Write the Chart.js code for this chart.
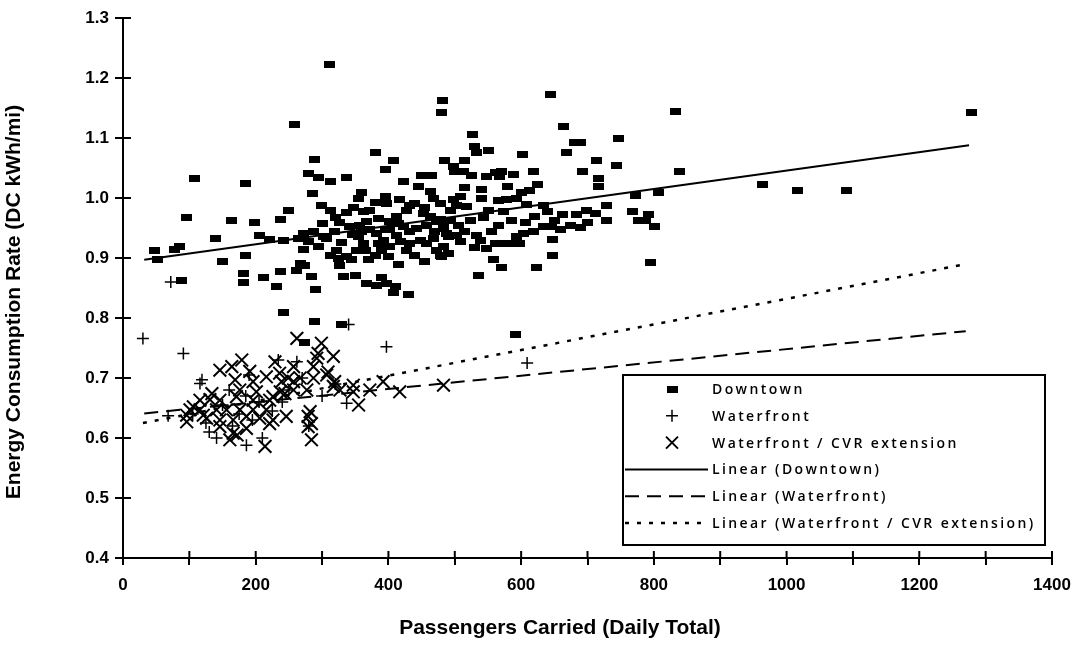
<!DOCTYPE html>
<html>
<head>
<meta charset="utf-8">
<script src="https://cdn.jsdelivr.net/npm/chart.js@4.4.1/dist/chart.umd.min.js"></script>
<style>
  html, body { margin: 0; padding: 0; background: #fff; }
  canvas { display: block; }
</style>
</head>
<body>
<canvas id="chart" width="1082" height="649"></canvas>
<script>
// values: [passengers carried, kWh/mi]
const downtown = [
  [48, 0.912], [52, 0.897], [78, 0.915], [85, 0.92], [88, 0.863], [95, 0.968], [108, 1.032],
  [140, 0.932], [150, 0.895], [164, 0.962], [182, 0.875], [182, 0.86], [185, 0.905], [185, 1.025],
  [289, 1.065], [381, 1.076], [407, 1.062], [396, 1.048], [279, 1.041], [294, 1.034], [312, 1.027],
  [337, 1.034], [285, 1.008], [360, 1.009], [355, 1.0], [395, 1.002], [417, 0.998], [423, 1.028],
  [450, 1.038], [465, 1.037], [445, 1.02], [463, 1.011], [468, 0.999], [478, 0.991],
  [299, 0.988], [312, 0.98], [249, 0.979], [237, 0.965], [198, 0.959], [206, 0.938],
  [337, 0.976], [347, 0.984], [362, 0.977], [372, 0.98], [380, 0.992], [397, 0.991], [432, 0.988],
  [440, 0.991], [427, 0.98], [412, 0.969], [402, 0.961], [385, 0.966],
  [327, 0.959], [342, 0.952], [357, 0.955], [367, 0.961],
  [453, 0.974], [463, 0.969], [473, 0.961], [483, 0.952], [488, 0.941],
  [423, 0.952], [432, 0.944], [443, 0.949],
  [272, 0.941], [287, 0.944], [302, 0.936], [264, 0.933], [279, 0.927], [294, 0.919], [307, 0.933],
  [242, 0.93], [221, 0.931], [272, 0.914],
  [355, 0.936], [362, 0.924], [352, 0.913], [365, 0.913], [382, 0.941], [385, 0.924], [392, 0.93],
  [402, 0.947], [412, 0.938], [402, 0.919], [432, 0.924], [427, 0.913], [440, 0.905],
  [458, 0.924], [468, 0.933], [473, 0.913], [483, 0.919], [480, 0.902],
  [322, 0.913], [325, 0.899], [312, 0.905], [337, 0.902], [345, 0.897], [370, 0.897], [380, 0.905], [400, 0.902],
  [327, 0.888], [267, 0.891], [274, 0.888], [262, 0.88], [237, 0.877], [211, 0.868], [232, 0.853], [284, 0.869],
  [332, 0.87], [350, 0.871], [390, 0.868], [367, 0.858], [382, 0.855], [397, 0.858], [410, 0.853],
  [407, 0.842], [431, 0.84], [290, 0.847], [242, 0.81], [288, 0.795], [330, 0.79], [274, 0.76],
  [311, 1.223], [258, 1.122], [482, 1.162], [480, 1.142], [644, 1.173], [664, 1.12],
  [526, 1.106], [529, 1.086], [533, 1.076], [551, 1.079], [602, 1.073], [681, 1.093], [689, 1.093],
  [668, 1.076], [747, 1.099], [714, 1.062], [744, 1.055],
  [484, 1.062], [498, 1.053], [500, 1.044], [513, 1.044], [514, 1.062],
  [525, 1.037], [548, 1.036], [561, 1.042], [571, 1.044], [568, 1.036], [589, 1.039], [619, 1.045],
  [692, 1.045], [716, 1.032], [716, 1.019], [625, 1.023], [612, 1.012], [515, 1.018], [540, 1.0],
  [508, 1.002], [498, 0.997], [503, 0.988], [493, 0.98],
  [566, 0.996], [578, 0.997], [593, 0.999], [608, 0.99], [633, 0.987], [518, 0.986], [523, 0.963],
  [551, 0.98], [543, 0.968], [573, 0.977],
  [478, 0.964], [493, 0.963], [483, 0.949], [490, 0.936], [503, 0.938], [508, 0.927],
  [729, 0.988], [772, 1.005], [768, 0.978], [777, 0.963], [699, 0.98], [684, 0.972], [729, 0.963],
  [663, 0.972], [651, 0.963], [646, 0.952], [659, 0.947], [674, 0.955], [689, 0.951], [606, 0.959], [566, 0.955],
  [633, 0.952], [618, 0.944], [603, 0.941], [593, 0.936], [598, 0.924], [583, 0.924], [571, 0.924], [561, 0.924],
  [648, 0.931], [648, 0.905], [533, 0.938], [538, 0.93], [530, 0.918], [548, 0.916], [558, 0.898],
  [570, 0.884], [623, 0.884], [536, 0.871], [478, 0.905], [490, 0.908], [592, 0.773],
  [832, 1.145], [1279, 1.142], [838, 1.045], [963, 1.022], [1016, 1.012], [1090, 1.012], [807, 1.01],
  [792, 0.973], [787, 0.963], [801, 0.952], [795, 0.892],
  // overlapping marks inside the dense middle of the cloud
  [318, 0.944], [330, 0.926], [346, 0.94], [372, 0.948], [395, 0.948], [418, 0.928], [448, 0.93],
  [458, 0.955], [470, 0.945], [415, 0.958], [390, 0.912], [360, 0.945], [300, 0.958], [320, 0.968],
  [455, 0.985], [505, 0.955], [515, 0.945], [555, 0.945], [585, 0.962], [620, 0.97], [640, 0.978],
  [700, 0.96], [712, 0.975], [540, 1.015], [580, 1.02], [600, 1.01], [415, 0.89], [455, 0.895]
];

const waterfront = [
  [30, 0.766], [72, 0.86], [91, 0.741], [116, 0.691], [119, 0.697], [68, 0.637], [141, 0.6],
  [186, 0.588], [234, 0.73], [262, 0.727], [340, 0.789], [397, 0.752], [337, 0.658], [609, 0.725],
  [105, 0.64], [125, 0.625], [150, 0.655], [165, 0.62], [175, 0.64], [195, 0.63], [205, 0.66],
  [225, 0.645], [250, 0.68], [270, 0.7], [300, 0.67], [160, 0.68], [210, 0.6], [130, 0.61],
  [185, 0.67], [280, 0.62], [240, 0.66], [320, 0.69], [190, 0.705]
];

const cvrExtension = [
  [262, 0.766], [299, 0.758], [317, 0.736], [294, 0.741], [179, 0.73], [146, 0.713], [191, 0.711],
  [229, 0.727], [257, 0.719], [287, 0.719], [169, 0.697], [196, 0.694], [216, 0.702], [236, 0.708],
  [164, 0.719], [307, 0.705], [134, 0.674], [116, 0.663], [106, 0.652], [96, 0.638], [146, 0.663],
  [171, 0.669], [196, 0.663], [221, 0.663], [141, 0.647], [156, 0.647], [176, 0.647], [196, 0.647],
  [216, 0.647], [126, 0.633], [146, 0.63], [166, 0.63], [186, 0.636], [206, 0.633], [226, 0.63],
  [146, 0.619], [166, 0.608], [186, 0.616], [221, 0.624], [161, 0.597], [172, 0.605], [214, 0.586],
  [246, 0.636], [282, 0.644], [284, 0.624], [284, 0.597], [317, 0.686], [347, 0.677], [392, 0.694],
  [417, 0.677], [483, 0.688], [355, 0.655], [277, 0.68], [257, 0.694], [244, 0.674], [176, 0.68],
  [201, 0.677], [226, 0.669], [116, 0.647], [101, 0.647], [121, 0.638], [96, 0.627], [131, 0.664],
  [249, 0.7], [267, 0.7], [239, 0.694], [287, 0.7], [319, 0.694], [372, 0.68], [327, 0.68],
  [309, 0.71], [292, 0.733], [279, 0.636], [279, 0.619], [347, 0.688], [257, 0.68], [237, 0.677]
];

// trend line end points
const downtownFit = [[32, 0.897], [1275, 1.088]];
const waterfrontFit = [[32, 0.641], [1270, 0.778]];
const cvrFit = [[30, 0.625], [1262, 0.888]];

const xRange = [0, 1400];
const yRange = [0.4, 1.3];
const xTitle = 'Passengers Carried (Daily Total)';
const yTitle = 'Energy Consumption Rate (DC kWh/mi)';

const FONT = '"Liberation Sans", Arial, Helvetica, sans-serif';

const toPts = arr => arr.map(([x, y]) => ({ x, y }));

// small black bar used as the Downtown marker
const bar = document.createElement('canvas');
bar.width = 11;
bar.height = 7;
const bctx = bar.getContext('2d');
bctx.fillStyle = '#000';
bctx.fillRect(0, 0, 11, 7);

const innerTicks = {
  id: 'innerTicks',
  afterDatasetsDraw(chart) {
    const { ctx, chartArea: a, scales: { x, y } } = chart;
    ctx.save();
    ctx.strokeStyle = '#000';
    ctx.lineWidth = 2;
    ctx.beginPath();
    x.ticks.forEach(t => {
      const px = x.getPixelForValue(t.value);
      ctx.moveTo(px, a.bottom);
      ctx.lineTo(px, a.bottom - 7);
    });
    y.ticks.forEach(t => {
      const py = y.getPixelForValue(t.value);
      ctx.moveTo(a.left, py);
      ctx.lineTo(a.left + 8, py);
    });
    ctx.stroke();
    ctx.restore();
  }
};

// axis titles sit a little off the plot centre in the original
const axisTitles = {
  id: 'axisTitles',
  afterDraw(chart) {
    const ctx = chart.ctx;
    ctx.save();
    ctx.fillStyle = '#000';
    ctx.font = 'bold 21px ' + FONT;
    ctx.textAlign = 'center';
    ctx.textBaseline = 'middle';
    ctx.fillText(xTitle, 560, 628);
    ctx.translate(14, 302);
    ctx.rotate(-Math.PI / 2);
    ctx.fillText(yTitle, 0, 0);
    ctx.restore();
  }
};

const boxLegend = {
  id: 'boxLegend',
  afterDraw(chart) {
    const ctx = chart.ctx;
    const sets = chart.data.datasets;
    const left = 623, top = 375, right = 1045, bottom = 545;
    ctx.save();
    ctx.fillStyle = '#fff';
    ctx.fillRect(left, top, right - left, bottom - top);
    ctx.strokeStyle = '#000';
    ctx.lineWidth = 2;
    ctx.strokeRect(left, top, right - left, bottom - top);

    ctx.font = '600 14px "Open Sans", ' + FONT;
    ctx.letterSpacing = '2.4px';
    ctx.textBaseline = 'middle';
    ctx.fillStyle = '#000';
    sets.forEach((ds, i) => {
      const cy = 389 + i * 26.8;
      const mx = 672;
      ctx.lineWidth = ds.borderWidth || 2;
      ctx.setLineDash([]);
      if (i === 0) {
        ctx.drawImage(bar, mx - 5, cy - 3);
      } else if (i === 1) {
        ctx.lineWidth = 1.5;
        ctx.beginPath();
        ctx.moveTo(mx - 6, cy); ctx.lineTo(mx + 6, cy);
        ctx.moveTo(mx, cy - 6); ctx.lineTo(mx, cy + 6);
        ctx.stroke();
      } else if (i === 2) {
        ctx.lineWidth = 2;
        ctx.beginPath();
        ctx.moveTo(mx - 6, cy - 6); ctx.lineTo(mx + 6, cy + 6);
        ctx.moveTo(mx + 6, cy - 6); ctx.lineTo(mx - 6, cy + 6);
        ctx.stroke();
      } else {
        ctx.setLineDash(ds.borderDash || []);
        ctx.beginPath();
        ctx.moveTo(left + 2, cy);
        ctx.lineTo(708, cy);
        ctx.stroke();
        ctx.setLineDash([]);
      }
      ctx.fillText(ds.label, 712, cy + 1);
    });
    ctx.restore();
  }
};

new Chart(document.getElementById('chart'), {
  type: 'scatter',
  data: {
    datasets: [
      {
        label: 'Downtown', data: toPts(downtown), order: 3,
        pointStyle: bar, pointRadius: 5, pointHoverRadius: 5,
        pointBackgroundColor: '#000', pointBorderColor: '#000'
      },
      {
        label: 'Waterfront', data: toPts(waterfront), order: 2,
        pointStyle: 'cross', pointRadius: 6, pointHoverRadius: 6,
        pointBorderColor: '#000', pointBorderWidth: 1.5, borderWidth: 1.5
      },
      {
        label: 'Waterfront / CVR extension', data: toPts(cvrExtension), order: 1,
        pointStyle: 'crossRot', pointRadius: 9, pointHoverRadius: 9,
        pointBorderColor: '#000', pointBorderWidth: 2, borderWidth: 2
      },
      {
        type: 'line', label: 'Linear (Downtown)', data: toPts(downtownFit), order: 0,
        borderColor: '#000', borderWidth: 2, pointRadius: 0, fill: false
      },
      {
        type: 'line', label: 'Linear (Waterfront)', data: toPts(waterfrontFit), order: 0,
        borderColor: '#000', borderWidth: 2, borderDash: [14, 8], pointRadius: 0, fill: false
      },
      {
        type: 'line', label: 'Linear (Waterfront / CVR extension)', data: toPts(cvrFit), order: 0,
        borderColor: '#000', borderWidth: 2.5, borderDash: [4, 8], pointRadius: 0, fill: false
      }
    ]
  },
  options: {
    responsive: false,
    animation: false,
    layout: { padding: { top: 18, right: 30, left: 0, bottom: 0 } },
    plugins: { legend: { display: false }, tooltip: { enabled: false } },
    scales: {
      x: {
        type: 'linear', min: xRange[0], max: xRange[1],
        afterFit: s => { s.height = 91; },
        border: { color: '#000', width: 2 },
        grid: { drawOnChartArea: false, color: '#000', lineWidth: 2, tickLength: 7 },
        ticks: {
          stepSize: 100, autoSkip: false, maxRotation: 0, padding: 10, color: '#000',
          font: { family: FONT, size: 17, weight: 'bold' },
          callback: v => (v % 200 === 0 ? String(v) : '')
        }
      },
      y: {
        type: 'linear', min: yRange[0], max: yRange[1],
        afterFit: s => { s.width = 123; },
        border: { color: '#000', width: 2 },
        grid: { drawOnChartArea: false, color: '#000', lineWidth: 2, tickLength: 8 },
        ticks: {
          stepSize: 0.1, padding: 6, color: '#000',
          font: { family: FONT, size: 17, weight: 'bold' },
          callback: v => v.toFixed(1)
        }
      }
    }
  },
  plugins: [innerTicks, axisTitles, boxLegend]
});
</script>
</body>
</html>
